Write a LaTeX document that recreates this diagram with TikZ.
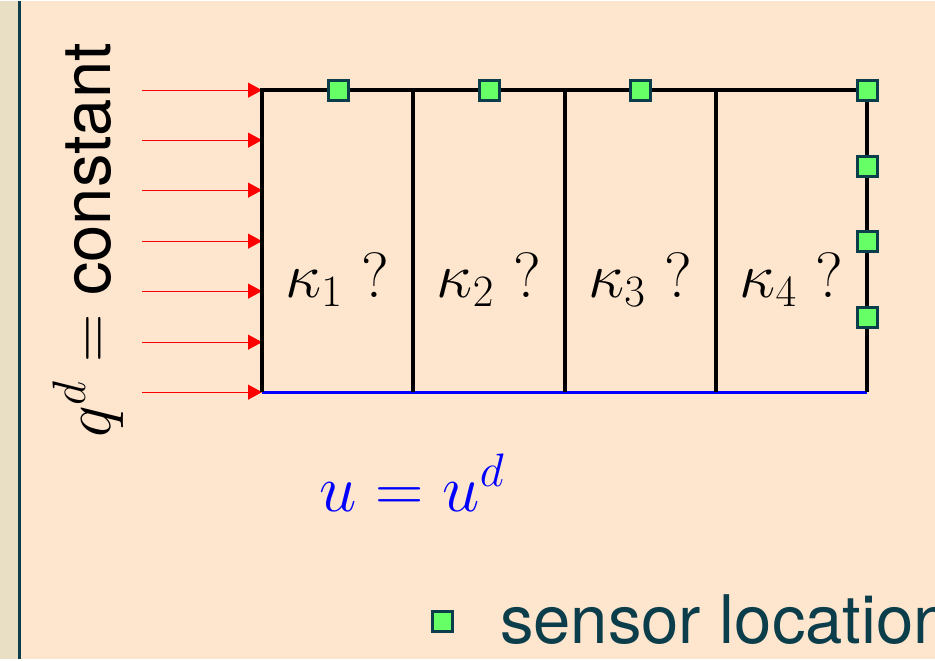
\documentclass[tikz,border=0pt]{standalone}
\usepackage{fix-cm}
\usepackage{fontspec}
\setsansfont{TeX Gyre Heros}
\usetikzlibrary{arrows.meta}

\definecolor{peach}{HTML}{FEE6CE}
\definecolor{margin}{HTML}{E9DFC4}
\definecolor{deepteal}{HTML}{0B3D4A}
\definecolor{sensorgreen}{HTML}{66FF66}

\begin{document}
\begin{tikzpicture}[x=1pt, y=-1pt,
    wall/.style={line width=3.3pt, black},
    fixed/.style={line width=3.3pt, blue},
    flux/.style={-{Triangle[length=14pt, width=15pt]}, red, line width=1pt},
    sensor/.style={rectangle, draw=deepteal, fill=sensorgreen, line width=3pt, minimum size=20pt, inner sep=0pt},
    coef/.style={font=\fontsize{64}{70}\selectfont, anchor=base},
    big/.style={font=\fontsize{67}{74}\selectfont\sffamily}
]
    % page and margin strip
    \fill[peach] (0,0) rectangle (935,658);
    \fill[margin] (0,0) rectangle (18.5,658);
    \draw[deepteal, line width=2.3pt] (19.5,0) -- (19.5,658);
    \useasboundingbox (0,0) rectangle (935,658);

    % corners of the domain
    \coordinate (nw) at (262,89);
    \coordinate (ne) at (867,89);
    \coordinate (sw) at (262,391);
    \coordinate (se) at (867,391);

    % incoming flux
    \coordinate (f1) at (142,89);
    \coordinate (f2) at (142,139);
    \coordinate (f3) at (142,189);
    \coordinate (f4) at (142,240);
    \coordinate (f5) at (142,290);
    \coordinate (f6) at (142,341);
    \coordinate (f7) at (142,391);
    \draw[flux] (f1) -- (f1 -| nw);
    \draw[flux] (f2) -- (f2 -| nw);
    \draw[flux] (f3) -- (f3 -| nw);
    \draw[flux] (f4) -- (f4 -| nw);
    \draw[flux] (f5) -- (f5 -| nw);
    \draw[flux] (f6) -- (f6 -| nw);
    \draw[flux] (f7) -- (f7 -| nw);

    % domain with four subdomains
    \draw[fixed] (sw) -- (se);
    \draw[wall] (sw) -- (nw) -- (ne) -- (se);
    \draw[wall] (413,89) -- (413,391);
    \draw[wall] (565,89) -- (565,391);
    \draw[wall] (716,89) -- (716,391);

    \node[coef] (k1) at (337.5,296) {$\kappa_1$ ?};
    \node[coef] (k2) at (489,296)   {$\kappa_2$ ?};
    \node[coef] (k3) at (640.5,296) {$\kappa_3$ ?};
    \node[coef] (k4) at (791.5,296) {$\kappa_4$ ?};

    % sensors
    \node[sensor] (s1) at (338,89)  {};
    \node[sensor] (s2) at (489,89)  {};
    \node[sensor] (s3) at (640,89)  {};
    \node[sensor] (s4) at (867,89)  {};
    \node[sensor] (s5) at (867,165) {};
    \node[sensor] (s6) at (867,240) {};
    \node[sensor] (s7) at (867,316) {};

    % boundary data
    \node[coef, blue, font=\fontsize{67}{74}\selectfont] (dirichlet) at (412,510) {$u = u^d$};
    \node[big, rotate=90, anchor=base] (neumann) at (110,239) {$q^d =$ constant};

    % legend
    \node[sensor] (key) at (442,620) {};
    \node[big, text=deepteal, anchor=base west, inner sep=0pt] (keytext) at (500,642) {sensor location};
\end{tikzpicture}
\end{document}
